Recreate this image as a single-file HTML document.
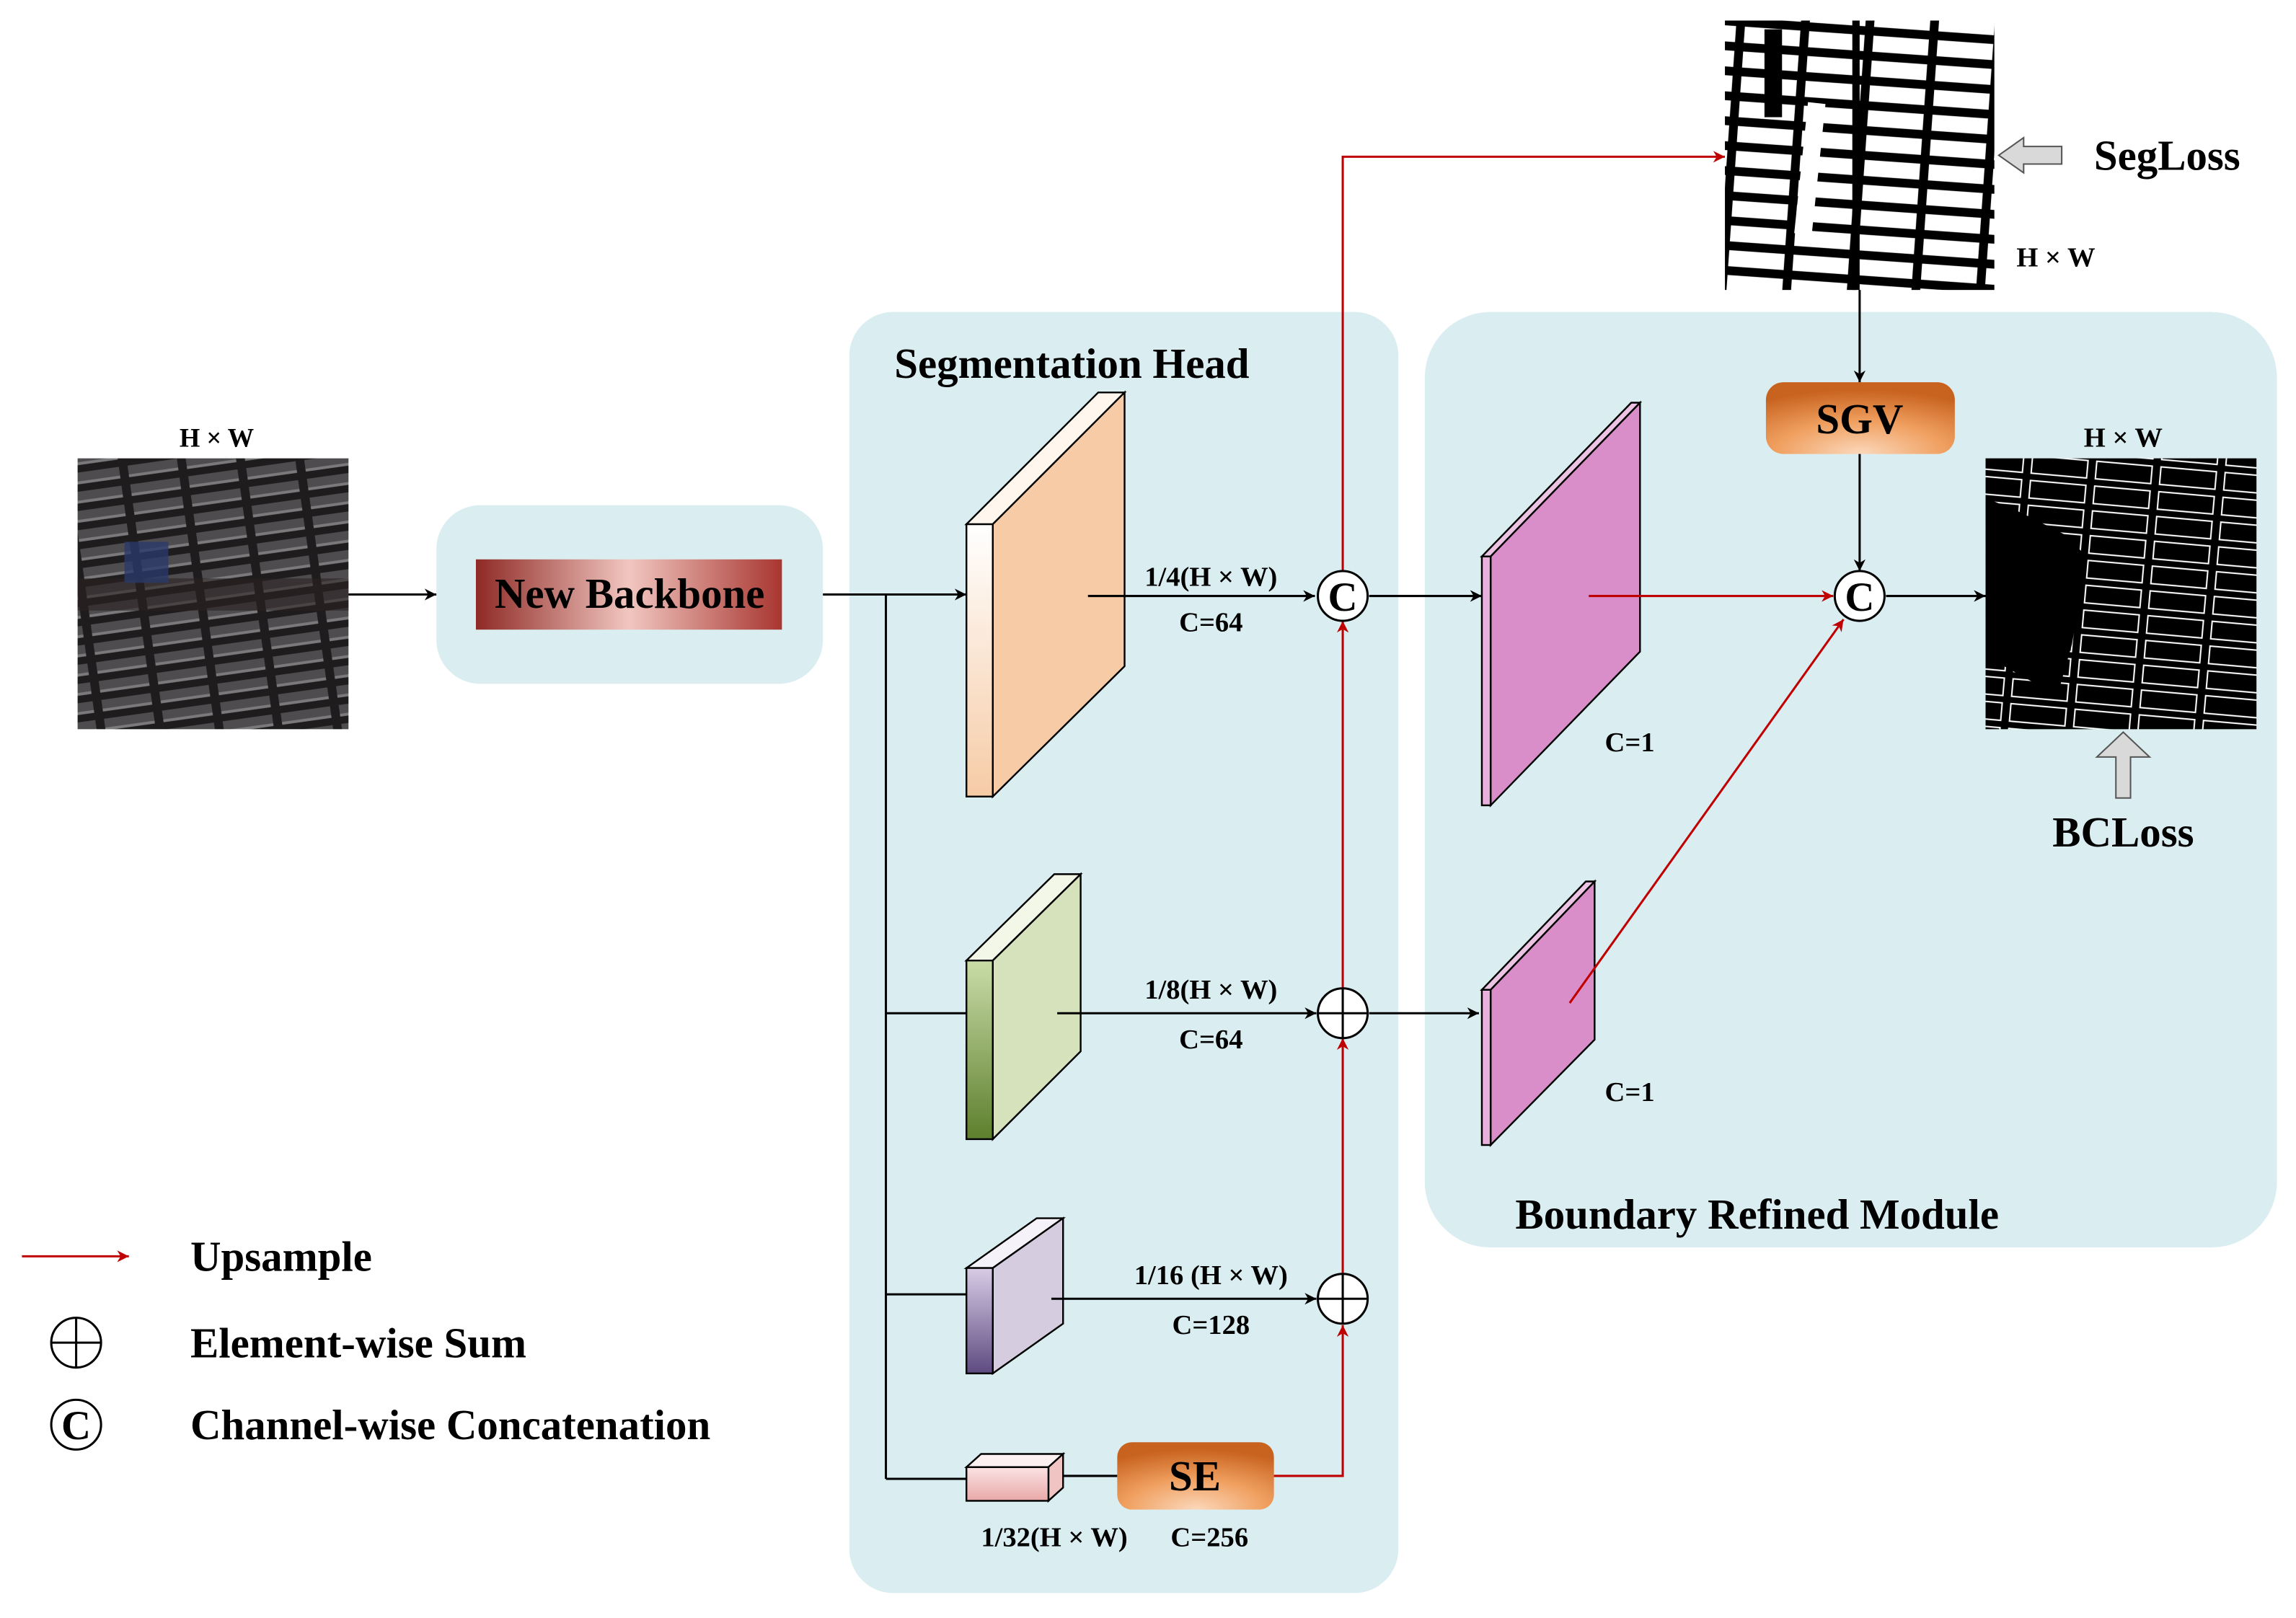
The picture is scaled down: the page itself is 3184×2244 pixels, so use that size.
<!DOCTYPE html>
<html><head><meta charset="utf-8"><style>
html,body{margin:0;padding:0;background:#fff;}
svg{display:block;}
text{font-family:"Liberation Serif",serif;font-weight:bold;fill:#000;}
</style></head><body>
<svg width="3184" height="2244" viewBox="0 0 1568 1105" xmlns="http://www.w3.org/2000/svg">
<defs>
<marker id="ab" viewBox="0 0 10 10" refX="10" refY="5" markerWidth="8" markerHeight="8" orient="auto" markerUnits="userSpaceOnUse"><path d="M0,0 L10,5 L0,10 L3,5 z" fill="#000"/></marker>
<marker id="ar" viewBox="0 0 10 10" refX="10" refY="5" markerWidth="8" markerHeight="8" orient="auto" markerUnits="userSpaceOnUse"><path d="M0,0 L10,5 L0,10 L3,5 z" fill="#c00000"/></marker>
<linearGradient id="gb" x1="0" x2="1"><stop offset="0" stop-color="#8e2a25"/><stop offset="0.5" stop-color="#f2c6c0"/><stop offset="1" stop-color="#a83630"/></linearGradient>
<radialGradient id="go" cx="0.5" cy="1" r="0.9"><stop offset="0" stop-color="#fbd8bc"/><stop offset="0.5" stop-color="#f0a060"/><stop offset="1" stop-color="#c8621f"/></radialGradient>
<linearGradient id="gg" x1="0" y1="0" x2="0" y2="1"><stop offset="0" stop-color="#c9dca8"/><stop offset="1" stop-color="#5e7f2d"/></linearGradient>
<linearGradient id="gp" x1="0" y1="0" x2="0" y2="1"><stop offset="0" stop-color="#d8cce6"/><stop offset="1" stop-color="#5e4a80"/></linearGradient>
<linearGradient id="gk" x1="0" y1="0" x2="0" y2="1"><stop offset="0" stop-color="#fbe3e3"/><stop offset="1" stop-color="#e9a8a8"/></linearGradient>
<linearGradient id="gf" x1="0" y1="0" x2="0" y2="1"><stop offset="0" stop-color="#fff"/><stop offset="1" stop-color="#f6cba6"/></linearGradient>
<pattern id="pseg" width="44" height="17" patternUnits="userSpaceOnUse" patternTransform="rotate(4)"><rect width="44" height="17" fill="#000"/><rect x="2" y="3" width="38" height="11" fill="#fff"/></pattern>
<pattern id="pout" width="44" height="17" patternUnits="userSpaceOnUse" patternTransform="rotate(5)"><rect width="44" height="17" fill="#000"/><rect x="2" y="2" width="38" height="12" fill="none" stroke="#fff" stroke-width="1"/></pattern>
<pattern id="pin" width="40" height="13" patternUnits="userSpaceOnUse" patternTransform="rotate(-8)"><rect width="40" height="13" fill="#1f1c1e"/><rect x="2" y="2" width="34" height="6" fill="#4f4c50"/><rect x="2" y="8" width="34" height="2" fill="#7a7a7c"/></pattern>
</defs>

<rect x="298" y="345" width="264" height="122" rx="30" fill="#daeef2"/>
<rect x="580" y="213" width="375" height="875" rx="30" fill="#daeef2"/>
<rect x="973" y="213" width="582" height="639" rx="45" fill="#daeef2"/>

<text x="148" y="305" font-size="18" text-anchor="middle">H × W</text>
<rect x="53" y="313" width="185" height="185" fill="url(#pin)"/>
<rect x="53" y="395" width="185" height="22" fill="#2a2222" opacity="0.6"/>
<rect x="85" y="370" width="30" height="28" fill="#2b3a6a" opacity="0.8"/>
<line x1="238" y1="406" x2="298" y2="406" stroke="#000" stroke-width="1.5" marker-end="url(#ab)"/>

<rect x="325" y="382" width="209" height="48" fill="url(#gb)"/>
<text x="430" y="415" font-size="29" text-anchor="middle">New Backbone</text>

<text x="732" y="258" font-size="29" text-anchor="middle">Segmentation Head</text>

<polyline points="562,406 605,406 605,1010" fill="none" stroke="#000" stroke-width="1.5"/>
<line x1="605" y1="406" x2="660" y2="406" stroke="#000" stroke-width="1.5" marker-end="url(#ab)"/>
<line x1="605" y1="692" x2="660" y2="692" stroke="#000" stroke-width="1.5"/>
<line x1="605" y1="884" x2="660" y2="884" stroke="#000" stroke-width="1.5"/>
<line x1="605" y1="1010" x2="660" y2="1010" stroke="#000" stroke-width="1.5"/>

<g stroke="#000" stroke-width="1.2">
<polygon points="660,358 678,358 768,268 750,268" fill="#fff6ee"/>
<polygon points="678,358 768,268 768,455 678,544" fill="#f6cba6"/>
<rect x="660" y="358" width="18" height="186" fill="url(#gf)"/>
<polygon points="660,656 678,656 738,597 720,597" fill="#f2f7e8"/>
<polygon points="678,656 738,597 738,718 678,778" fill="#d5e2bc"/>
<rect x="660" y="656" width="18" height="122" fill="url(#gg)"/>
<polygon points="660,866 678,866 726,832 708,832" fill="#f6f2fa"/>
<polygon points="678,866 726,832 726,904 678,938" fill="#d6cce0"/>
<rect x="660" y="866" width="18" height="72" fill="url(#gp)"/>
<polygon points="660,1002 716,1002 726,993 670,993" fill="#fdf0f0"/>
<polygon points="716,1002 726,993 726,1016 716,1025" fill="#f1c4c4"/>
<rect x="660" y="1002" width="56" height="23" fill="url(#gk)"/>
</g>

<line x1="743" y1="407" x2="898" y2="407" stroke="#000" stroke-width="1.5" marker-end="url(#ab)"/>
<line x1="722" y1="692" x2="899" y2="692" stroke="#000" stroke-width="1.5" marker-end="url(#ab)"/>
<line x1="718" y1="887" x2="899" y2="887" stroke="#000" stroke-width="1.5" marker-end="url(#ab)"/>
<line x1="726" y1="1008" x2="763" y2="1008" stroke="#000" stroke-width="1.5"/>

<text x="827" y="400" font-size="19" text-anchor="middle">1/4(H × W)</text>
<text x="827" y="431" font-size="19" text-anchor="middle">C=64</text>
<text x="827" y="682" font-size="19" text-anchor="middle">1/8(H × W)</text>
<text x="827" y="716" font-size="19" text-anchor="middle">C=64</text>
<text x="827" y="877" font-size="19" text-anchor="middle">1/16 (H × W)</text>
<text x="827" y="911" font-size="19" text-anchor="middle">C=128</text>
<text x="720" y="1056" font-size="19" text-anchor="middle">1/32(H × W)</text>
<text x="826" y="1056" font-size="19" text-anchor="middle">C=256</text>

<rect x="763" y="985" width="107" height="46" rx="10" fill="url(#go)"/>
<text x="816" y="1018" font-size="29" text-anchor="middle">SE</text>

<polyline points="870,1008 917,1008 917,905" fill="none" stroke="#c00000" stroke-width="1.5" marker-end="url(#ar)"/>
<line x1="917" y1="870" x2="917" y2="709" stroke="#c00000" stroke-width="1.5" marker-end="url(#ar)"/>
<line x1="917" y1="675" x2="917" y2="424" stroke="#c00000" stroke-width="1.5" marker-end="url(#ar)"/>
<polyline points="917,390 917,107 1178,107" fill="none" stroke="#c00000" stroke-width="1.5" marker-end="url(#ar)"/>

<g stroke="#000" stroke-width="1.5" fill="#fff">
<circle cx="917" cy="407" r="17"/>
<circle cx="917" cy="692" r="17"/><path d="M900,692 H934 M917,675 V709"/>
<circle cx="917" cy="887" r="17"/><path d="M900,887 H934 M917,870 V904"/>
<circle cx="1270" cy="407" r="17"/>
<circle cx="52" cy="917" r="17"/><path d="M35,917 H69 M52,900 V934"/>
<circle cx="52" cy="973" r="17"/>
</g>
<text x="917" y="417" font-size="28" text-anchor="middle">C</text>
<text x="1270" y="417" font-size="28" text-anchor="middle">C</text>
<text x="52" y="983" font-size="28" text-anchor="middle">C</text>

<line x1="935" y1="407" x2="1012" y2="407" stroke="#000" stroke-width="1.5" marker-end="url(#ab)"/>
<line x1="935" y1="692" x2="1010" y2="692" stroke="#000" stroke-width="1.5" marker-end="url(#ab)"/>

<g stroke="#000" stroke-width="1.2">
<polygon points="1012,380 1018,380 1120,275 1114,275" fill="#edc3e4"/>
<polygon points="1018,380 1120,275 1120,445 1018,550" fill="#d98ec9"/>
<rect x="1012" y="380" width="6" height="170" fill="#e8b0dc"/>
<polygon points="1012,676 1018,676 1089,602 1083,602" fill="#edc3e4"/>
<polygon points="1018,676 1089,602 1089,710 1018,782" fill="#d98ec9"/>
<rect x="1012" y="676" width="6" height="106" fill="#e8b0dc"/>
</g>
<text x="1113" y="513" font-size="19" text-anchor="middle">C=1</text>
<text x="1113" y="752" font-size="19" text-anchor="middle">C=1</text>

<line x1="1085" y1="407" x2="1252" y2="407" stroke="#c00000" stroke-width="1.5" marker-end="url(#ar)"/>
<line x1="1072" y1="685" x2="1259" y2="423" stroke="#c00000" stroke-width="1.5" marker-end="url(#ar)"/>

<rect x="1178" y="14" width="184" height="184" fill="url(#pseg)"/>
<rect x="1265" y="14" width="5" height="184" fill="#000"/>
<rect x="1230" y="70" width="12" height="90" fill="#fff" transform="rotate(6 1235 115)"/>
<rect x="1205" y="20" width="12" height="60" fill="#000"/>
<polygon points="1365,106 1382,94 1382,100 1408,100 1408,112 1382,112 1382,118" fill="#d9d9d9" stroke="#555" stroke-width="1"/>
<text x="1480" y="116" font-size="29" text-anchor="middle">SegLoss</text>
<text x="1404" y="182" font-size="19" text-anchor="middle">H × W</text>

<line x1="1270" y1="198" x2="1270" y2="261" stroke="#000" stroke-width="1.5" marker-end="url(#ab)"/>
<rect x="1206" y="261" width="129" height="49" rx="12" fill="url(#go)"/>
<text x="1270" y="296" font-size="29" text-anchor="middle">SGV</text>
<line x1="1270" y1="310" x2="1270" y2="390" stroke="#000" stroke-width="1.5" marker-end="url(#ab)"/>
<line x1="1288" y1="407" x2="1356" y2="407" stroke="#000" stroke-width="1.5" marker-end="url(#ab)"/>

<text x="1450" y="305" font-size="19" text-anchor="middle">H × W</text>
<rect x="1356" y="313" width="185" height="185" fill="url(#pout)"/>
<polygon points="1356,340 1380,350 1410,365 1425,380 1415,440 1405,475 1356,448" fill="#000"/>
<polygon points="1445,517 1432,517 1450,500 1468,517 1455,517 1455,545 1445,545" fill="#d9d9d9" stroke="#555" stroke-width="1"/>
<text x="1450" y="578" font-size="29" text-anchor="middle">BCLoss</text>

<text x="1200" y="839" font-size="29" text-anchor="middle">Boundary Refined Module</text>

<line x1="15" y1="858" x2="88" y2="858" stroke="#c00000" stroke-width="1.5" marker-end="url(#ar)"/>
<text x="130" y="868" font-size="29">Upsample</text>
<text x="130" y="927" font-size="29">Element-wise Sum</text>
<text x="130" y="983" font-size="29">Channel-wise Concatenation</text>
</svg>
</body></html>
